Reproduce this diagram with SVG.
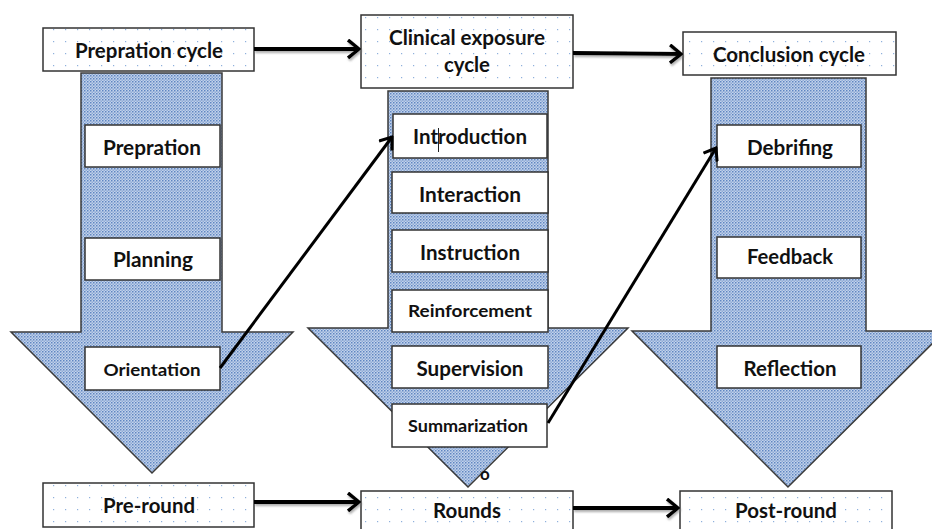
<svg xmlns="http://www.w3.org/2000/svg" width="932" height="529" viewBox="0 0 932 529">
<defs>
  <pattern id="tex" width="3" height="3" patternUnits="userSpaceOnUse">
    <rect width="3" height="3" fill="#c3d3ea"/>
    <rect x="0" y="0" width="1.5" height="1.5" fill="#5f86c2"/>
    <rect x="1.5" y="1.5" width="1.5" height="1.5" fill="#8eaad6"/>
  </pattern>
  <pattern id="dots" width="12" height="12" patternUnits="userSpaceOnUse">
    <rect width="12" height="12" fill="#fff"/>
    <rect x="5" y="5" width="1.2" height="1.2" fill="#8fb0dc"/>
  </pattern>
  <marker id="chev" viewBox="0 0 14 20" refX="12" refY="10" markerWidth="14" markerHeight="20" markerUnits="userSpaceOnUse" orient="auto">
    <path d="M1,1 L12,10 L1,19" fill="none" stroke="#000" stroke-width="3.5" stroke-linejoin="miter"/>
  </marker>
  <marker id="chev2" viewBox="0 0 14 18" refX="12" refY="9" markerWidth="14" markerHeight="18" markerUnits="userSpaceOnUse" orient="auto">
    <path d="M1,1 L12,9 L1,17" fill="none" stroke="#000" stroke-width="3"/>
  </marker>
  <filter id="sh" x="-10%" y="-50%" width="120%" height="200%">
    <feDropShadow dx="1" dy="2" stdDeviation="1.2" flood-color="#777" flood-opacity="0.6"/>
  </filter>
</defs>
<style>
  .arrow { fill: url(#tex); stroke: #3a3a3a; stroke-width: 1.5; }
  .box { fill: #fff; stroke: #333; stroke-width: 1.5; }
  .dbox { fill: url(#dots); stroke: #333; stroke-width: 1.5; }
  text { font-family: Lato, "Open Sans", "Liberation Sans", sans-serif; font-weight: 700; fill: #111; text-anchor: middle; }
  .big { font-size: 20px; }
  .sm { font-size: 17px; }
  .conn { stroke: #000; fill: none; }
</style>

<g id="arrow-left">
  <path class="arrow" d="M81,73 L222,73 L222,332 L293,332 L152,473 L11,332 L81,332 Z"/>
</g>
<g id="arrow-middle">
  <path class="arrow" d="M388,91 L548,91 L548,328 L628,328 L468,487 L308,328 L388,328 Z"/>
</g>
<g id="arrow-right">
  <path class="arrow" d="M711,78 L866,78 L866,331 L945,331 L788,487 L632,331 L711,331 Z"/>
</g>

<g id="prep-cycle">
  <rect class="dbox" x="43" y="28" width="211" height="43"/>
  <text class="big" x="149" y="58" textLength="148" lengthAdjust="spacingAndGlyphs">Prepration cycle</text>
</g>
<g id="clinical-cycle">
  <rect class="dbox" x="361" y="15" width="212" height="73"/>
  <text class="big" x="467" y="45" textLength="156" lengthAdjust="spacingAndGlyphs">Clinical exposure</text>
  <text class="big" x="467" y="72" textLength="46" lengthAdjust="spacingAndGlyphs">cycle</text>
</g>
<g id="conclusion-cycle">
  <rect class="dbox" x="683" y="32" width="213" height="43"/>
  <text class="big" x="789" y="62" textLength="152" lengthAdjust="spacingAndGlyphs">Conclusion cycle</text>
</g>

<g id="prepration">
  <rect class="box" x="85" y="125" width="135" height="42"/>
  <text class="big" x="152" y="155" textLength="98" lengthAdjust="spacingAndGlyphs">Prepration</text>
</g>
<g id="planning">
  <rect class="box" x="85" y="238" width="135" height="42"/>
  <text class="big" x="153" y="267" textLength="80" lengthAdjust="spacingAndGlyphs">Planning</text>
</g>
<g id="orientation">
  <rect class="box" x="85" y="347" width="135" height="43"/>
  <text class="sm" x="152" y="376" textLength="97" lengthAdjust="spacingAndGlyphs">Orientation</text>
</g>

<g id="introduction">
  <rect class="box" x="393" y="114" width="154" height="44"/>
  <text class="big" x="470" y="144" textLength="114" lengthAdjust="spacingAndGlyphs">Introduction</text>
  <line x1="438.5" y1="128" x2="438.5" y2="152" stroke="#222" stroke-width="1"/>
</g>
<g id="interaction">
  <rect class="box" x="392" y="172" width="156" height="41"/>
  <text class="big" x="470" y="202" textLength="102" lengthAdjust="spacingAndGlyphs">Interaction</text>
</g>
<g id="instruction">
  <rect class="box" x="392" y="230" width="156" height="42"/>
  <text class="big" x="470" y="260" textLength="100" lengthAdjust="spacingAndGlyphs">Instruction</text>
</g>
<g id="reinforcement">
  <rect class="box" x="392" y="290" width="156" height="42"/>
  <text class="sm" x="470" y="317" textLength="124" lengthAdjust="spacingAndGlyphs">Reinforcement</text>
</g>
<g id="supervision">
  <rect class="box" x="392" y="346" width="156" height="42"/>
  <text class="big" x="470" y="376" textLength="107" lengthAdjust="spacingAndGlyphs">Supervision</text>
</g>
<g id="summarization">
  <rect class="box" x="392" y="404" width="155" height="43"/>
  <text class="sm" x="468" y="432" textLength="120" lengthAdjust="spacingAndGlyphs">Summarization</text>
</g>
<g id="stray-o">
  <text x="485" y="480" style="font-size:17px">o</text>
</g>

<g id="debrifing">
  <rect class="box" x="717" y="125" width="144" height="42"/>
  <text class="big" x="790" y="155" textLength="86" lengthAdjust="spacingAndGlyphs">Debrifing</text>
</g>
<g id="feedback">
  <rect class="box" x="717" y="237" width="144" height="41"/>
  <text class="big" x="790" y="264" textLength="86" lengthAdjust="spacingAndGlyphs">Feedback</text>
</g>
<g id="reflection">
  <rect class="box" x="717" y="346" width="144" height="42"/>
  <text class="big" x="790" y="376" textLength="93" lengthAdjust="spacingAndGlyphs">Reflection</text>
</g>

<g id="pre-round">
  <rect class="dbox" x="43" y="483" width="211" height="44"/>
  <text class="big" x="149" y="513" textLength="92" lengthAdjust="spacingAndGlyphs">Pre-round</text>
</g>
<g id="rounds">
  <rect class="dbox" x="361" y="491" width="212" height="44"/>
  <text class="big" x="467" y="518" textLength="68" lengthAdjust="spacingAndGlyphs">Rounds</text>
</g>
<g id="post-round">
  <rect class="dbox" x="680" y="491" width="212" height="44"/>
  <text class="big" x="786" y="518" textLength="102" lengthAdjust="spacingAndGlyphs">Post-round</text>
</g>

<g id="connectors">
  <g filter="url(#sh)">
    <line class="conn" x1="254" y1="49" x2="359" y2="49" stroke-width="4" marker-end="url(#chev)"/>
    <line class="conn" x1="573" y1="53" x2="681" y2="54" stroke-width="4" marker-end="url(#chev)"/>
    <line class="conn" x1="254" y1="502" x2="359" y2="502" stroke-width="4" marker-end="url(#chev)"/>
    <line class="conn" x1="573" y1="508" x2="678" y2="508" stroke-width="4" marker-end="url(#chev)"/>
  </g>
  <line class="conn" x1="220" y1="368" x2="392" y2="137" stroke-width="3" marker-end="url(#chev2)"/>
  <line class="conn" x1="548" y1="423" x2="716" y2="148" stroke-width="3" marker-end="url(#chev2)"/>
</g>
</svg>
